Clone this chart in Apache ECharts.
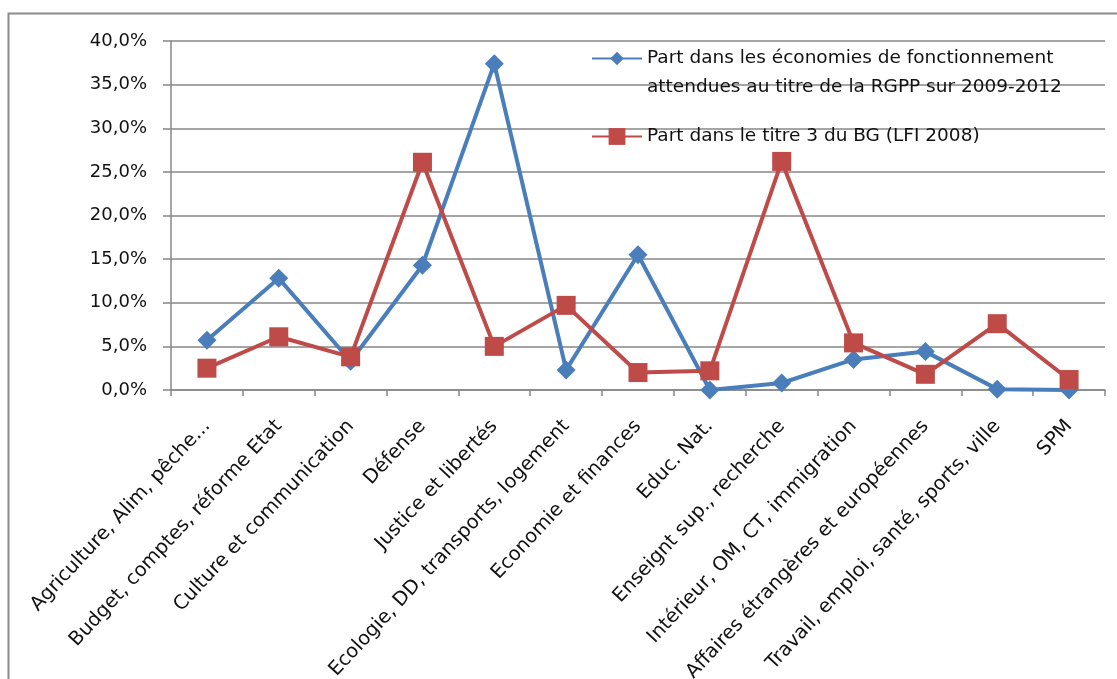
<!DOCTYPE html>
<html>
<head>
<meta charset="utf-8">
<script src="https://cdn.jsdelivr.net/npm/echarts@6/dist/echarts.min.js"></script>
<style>
  html, body { margin: 0; padding: 0; background: #fff; }
  #chart { width: 1117px; height: 679px; }
</style>
</head>
<body>
<div id="chart"></div>
<script>
// Ministries (x axis)
const categories = [
  'Agriculture, Alim, pêche...',
  'Budget, comptes, réforme Etat',
  'Culture et communication',
  'Défense',
  'Justice et libertés',
  'Ecologie, DD, transports, logement',
  'Economie et finances',
  'Educ. Nat.',
  'Enseignt sup., recherche',
  'Intérieur, OM, CT, immigration',
  'Affaires étrangères et européennes',
  'Travail, emploi, santé, sports, ville',
  'SPM'
];

// Share of expected operating savings (RGPP 2009-2012)
const economiesRGPP = [0.057, 0.128, 0.033, 0.143, 0.374, 0.023, 0.155, 0.000, 0.008, 0.035, 0.044, 0.001, 0.000];
// Share of title 3 of the general budget (LFI 2008)
const titre3BG = [0.025, 0.061, 0.038, 0.261, 0.050, 0.097, 0.020, 0.022, 0.262, 0.054, 0.018, 0.076, 0.012];

const seriesNames = [
  'Part dans les économies de fonctionnement\nattendues au titre de la RGPP sur 2009-2012',
  'Part dans le titre 3 du BG (LFI 2008)'
];

// Y axis range and step
const yMin = 0, yMax = 0.4, yStep = 0.05;

const FONT = 'DejaVu Sans';
const GREY = '#878787';
const BLUE = '#4A7EBB';
const RED = '#BE4B48';

const chart = echarts.init(document.getElementById('chart'), null, { renderer: 'canvas' });

chart.setOption({
  backgroundColor: '#ffffff',
  animation: false,
  graphic: [{
    type: 'rect',
    silent: true,
    shape: { x: 8.5, y: 13.5, width: 1300, height: 900 },
    style: { fill: 'none', stroke: '#8a8a8a', lineWidth: 2 },
    z: -10
  }],
  grid: {
    left: 171, right: 12, top: 41, bottom: 289,
    containLabel: false,
    outerBoundsMode: 'none'
  },
  legend: [
    {
      data: [seriesNames[0]],
      left: 591,
      top: 15,
      padding: 0,
      itemWidth: 50,
      itemHeight: 17,
      // leading blank line keeps the marker level with the first text line
      formatter: name => ' \n' + name,
      textStyle: { fontFamily: FONT, fontSize: 18.5, color: '#111', lineHeight: 29 }
    },
    {
      data: [seriesNames[1]],
      left: 591,
      top: 122,
      padding: 0,
      itemWidth: 50,
      itemHeight: 21,
      textStyle: { fontFamily: FONT, fontSize: 18.5, color: '#111', lineHeight: 29 }
    }
  ],
  xAxis: {
    type: 'category',
    data: categories,
    boundaryGap: true,
    axisLine: { lineStyle: { color: GREY, width: 1.5 } },
    axisTick: { show: true, length: 6, lineStyle: { color: GREY, width: 1.5 } },
    axisLabel: {
      rotate: 47,
      interval: 0,
      margin: 33,
      fontFamily: FONT,
      fontSize: 19.5,
      color: '#111'
    },
    splitLine: { show: false }
  },
  yAxis: {
    type: 'value',
    min: yMin,
    max: yMax,
    interval: yStep,
    axisLine: { show: true, lineStyle: { color: GREY, width: 1.5 } },
    axisTick: { show: true, length: 8, lineStyle: { color: GREY, width: 1.5 } },
    axisLabel: {
      margin: 24,
      fontFamily: FONT,
      fontSize: 18,
      color: '#111',
      formatter: v => (v * 100).toFixed(1).replace('.', ',') + '%'
    },
    splitLine: { show: true, lineStyle: { color: GREY, width: 1.5 } }
  },
  series: [
    {
      name: seriesNames[0],
      type: 'line',
      data: economiesRGPP,
      symbol: 'diamond',
      symbolSize: 19,
      color: BLUE,
      lineStyle: { color: BLUE, width: 4 },
      itemStyle: { color: BLUE },
      z: 2
    },
    {
      name: seriesNames[1],
      type: 'line',
      data: titre3BG,
      symbol: 'rect',
      symbolSize: 19,
      color: RED,
      lineStyle: { color: RED, width: 4 },
      itemStyle: { color: RED },
      z: 3
    }
  ]
});
</script>
</body>
</html>
